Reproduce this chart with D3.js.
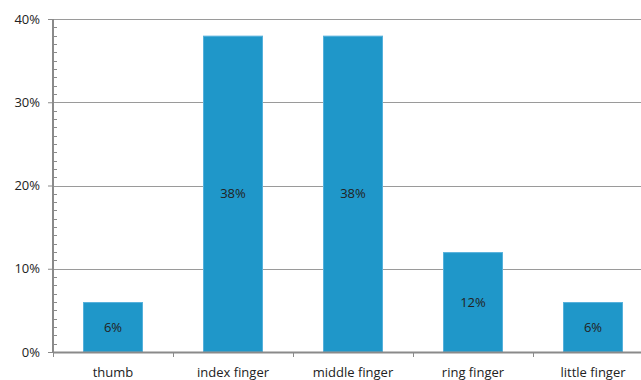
<!DOCTYPE html>
<html><head><meta charset="utf-8">
<script src="https://cdn.jsdelivr.net/npm/d3@7"></script>
<style>body{margin:0;background:#fff}svg{display:block}text{font-family:"Open Sans","Noto Sans",sans-serif;fill:#222}</style>
</head><body>
<svg id="c" width="641" height="380"></svg>
<script>
const categories = ["thumb","index finger","middle finger","ring finger","little finger"];
const values = [0.06,0.38,0.38,0.12,0.06];
const yTicks = [0,0.1,0.2,0.3,0.4];

(function(){
const svg = d3.select("#c");
const mLeft = 53, mTop = 19, mBottom = 352, bandW = 120;
const x = d3.scaleBand().domain(categories).range([mLeft, mLeft + bandW*categories.length]).paddingInner(0.5).paddingOuter(0.25);
const y = d3.scaleLinear().domain([0,0.4]).range([mBottom, mTop]);
const fmt = d3.format(".0%");

// gridlines
svg.append("g").selectAll("line").data(yTicks.slice(1)).join("line")
  .attr("x1", mLeft).attr("x2", 641).attr("y1", d=>Math.round(y(d))+0.5).attr("y2", d=>Math.round(y(d))+0.5)
  .attr("stroke","#9a9a9a").attr("stroke-width",1);

// minor ticks
const minor = d3.range(0,41).map(d=>d/100).filter((d,i)=>i%10!==0);
svg.append("g").selectAll("line").data(minor).join("line")
  .attr("x1", mLeft).attr("x2", mLeft+4).attr("y1", d=>Math.round(y(d))+0.5).attr("y2", d=>Math.round(y(d))+0.5)
  .attr("stroke","#8a8a8a");

// y axis
const ya = svg.append("g").attr("transform",`translate(${mLeft},0)`)
  .call(d3.axisLeft(y).tickValues(yTicks).tickFormat(fmt).tickSize(5).tickPadding(8));
ya.select(".domain").remove();
ya.selectAll(".tick line").attr("stroke","#8a8a8a");
ya.selectAll(".tick text").attr("font-size",13).style("font-family",'"Open Sans","Noto Sans",sans-serif').attr("fill","#222");
svg.append("line").attr("x1",mLeft).attr("x2",mLeft).attr("y1",mTop).attr("y2",mBottom+1).attr("stroke","#8a8a8a").attr("stroke-width",2);

// bars
svg.append("g").selectAll("rect").data(categories).join("rect")
  .attr("x", d=>x(d)+0.5).attr("width", x.bandwidth()-1)
  .attr("y", (d,i)=>y(values[i])+0.5).attr("height",(d,i)=>y(0)-y(values[i])-0.5)
  .attr("fill","#1f97c9").attr("stroke","#55b1dc").attr("stroke-width",1);

// value labels
svg.append("g").selectAll("text").data(categories).join("text")
  .attr("x", d=>x(d)+x.bandwidth()/2).attr("y",(d,i)=>(y(values[i])+y(0))/2)
  .attr("text-anchor","middle").attr("dy","0.35em").attr("font-size",13)
  .text((d,i)=>fmt(values[i]));

// x axis
svg.append("line").attr("x1",mLeft).attr("x2",641).attr("y1",mBottom+0.5).attr("y2",mBottom+0.5).attr("stroke","#8a8a8a").attr("stroke-width",2);
const bounds = d3.range(1,categories.length).map(i=>mLeft+i*bandW);
svg.append("g").selectAll("line").data([mLeft].concat(bounds)).join("line")
  .attr("x1",d=>d+0.5).attr("x2",d=>d+0.5).attr("y1",mBottom).attr("y2",mBottom+5).attr("stroke","#8a8a8a");
svg.append("g").selectAll("text").data(categories).join("text")
  .attr("x", d=>x(d)+x.bandwidth()/2).attr("y",372).attr("dy","0.35em")
  .attr("text-anchor","middle").attr("font-size",13).text(d=>d);
})();
</script>
</body></html>
